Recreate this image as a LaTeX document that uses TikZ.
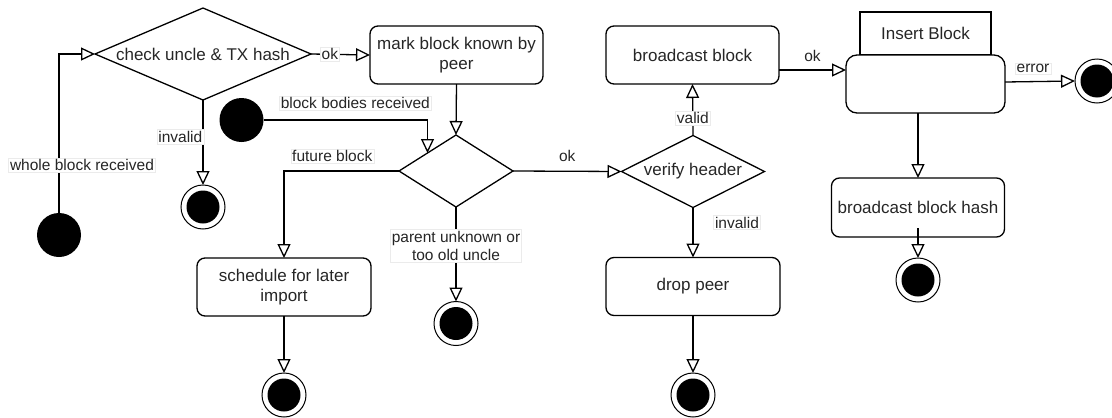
\documentclass[tikz,border=0pt]{standalone}
\usepackage{fontspec}
\setmainfont{Liberation Sans}
\usetikzlibrary{shapes.geometric,arrows.meta}
\begin{document}
\begin{tikzpicture}[x=1pt,y=-1pt, line width=1.3pt,
 >={Triangle[open,length=14pt,width=13pt]},
 arr/.style={->, line join=miter},
 txt/.style={font=\fontsize{17}{20}\selectfont, text=black!85},
 rbox/.style={draw, rounded corners=8pt, align=center, inner sep=0pt, outer sep=0pt, txt},
 dec/.style={draw, diamond, inner sep=0pt, outer sep=0pt},
 startdot/.style={circle, fill=black, minimum size=44pt, inner sep=0pt, outer sep=0pt},
 endst/.style={circle, draw, line width=1pt, minimum size=44pt, inner sep=0pt, outer sep=0pt,
   path picture={\fill[black] (path picture bounding box.center) circle (16.5pt);}},
 lbl/.style={font=\fontsize{15.5}{18.5}\selectfont, inner sep=1.5pt, text=black!85, align=center},
 lblbg/.style={lbl, fill=white, draw=black!8, line width=0.4pt}
]
\useasboundingbox (0,0) rectangle (1112,418);

% decisions
\node[dec, minimum width=216pt, minimum height=92pt, label={[txt]center:check uncle \& TX hash}] (d1) at (203,54) {};
\node[dec, minimum width=114pt, minimum height=72pt] (d2) at (456,171) {};
\node[dec, minimum width=143pt, minimum height=72pt, label={[txt]center:verify header}] (vh) at (693,171.5) {};

% actions
\node[rbox, minimum width=173pt, minimum height=58pt] (mark) at (456.5,55) {mark block known by\\peer};
\node[rbox, minimum width=173pt, minimum height=58pt] (bb) at (692.5,55) {broadcast block};
\node[draw, txt, minimum width=131pt, minimum height=43pt, inner sep=0pt, outer sep=0pt] (insh) at (925.5,33.5) {Insert Block};
\node[rbox, rounded corners=11pt, fill=white, minimum width=159pt, minimum height=58pt] (ins) at (925.5,84) {};
\node[rbox, minimum width=174pt, minimum height=58pt] (sched) at (284,287) {schedule for later\\import};
\node[rbox, minimum width=174pt, minimum height=58pt] (drop) at (693,286.5) {drop peer};
\node[rbox, minimum width=173pt, minimum height=59pt] (bbh) at (918,207.5) {broadcast block hash};

% start and end states
\node[startdot] (s1) at (59,235) {};
\node[startdot] (s2) at (241.5,120) {};
\node[endst] (end1) at (203,207) {};
\node[endst] (end2) at (284,395) {};
\node[endst] (end3) at (456,323.5) {};
\node[endst] (end4) at (693,395) {};
\node[endst] (end5) at (918,280) {};
\node[endst] (endE) at (1097,81) {};

% connectors
\draw[arr] (s1.north) |- node[lblbg, pos=0.15, xshift=23pt]{whole block received} (d1.west);
\draw[arr] (d1.east) -- node[lblbg, pos=0.32]{ok} (mark.west);
\draw[arr] (d1.south) -- node[lblbg, pos=0.43, anchor=east, xshift=1pt]{invalid} (end1.north);
\draw[arr] (mark.south) -- (d2.north);
\draw[arr] (s2.east) -| node[lblbg, pos=0.28, yshift=17pt]{block bodies received} (d2.north west);
\draw[arr] (d2.west) -| node[lblbg, pos=0.29, yshift=15pt]{future block} (sched.north);
\draw[arr] (d2.south) -- node[lblbg, pos=0.41]{parent unknown or\\too old uncle} (end3.north);
\draw[arr] (d2.east) -- node[lbl, pos=0.5, yshift=15pt]{ok} (vh.west);
\draw[arr] (vh.north) -- node[lblbg, pos=0.34]{valid} (bb.south);
\draw[arr] (vh.south) -- node[lblbg, pos=0.3, xshift=44pt]{invalid} (drop.north);
\draw[arr] (drop.south) -- (end4.north);
\draw[arr] (sched.south) -- (end2.north);
\coordinate (okstart) at ([yshift=-15pt]bb.east);
\draw[arr] (okstart) -- node[lbl, pos=0.5, yshift=14pt]{ok} (okstart -| ins.west);
\coordinate (errstart) at ([yshift=2pt]ins.east);
\draw[arr] (errstart) -- node[lblbg, pos=0.4, yshift=13pt]{error} (endE.west);
\draw[arr] (bbh.north |- ins.south) -- (bbh.north);
\draw[arr] ([yshift=9pt]bbh.south) -- (end5.north);
\end{tikzpicture}
\end{document}
